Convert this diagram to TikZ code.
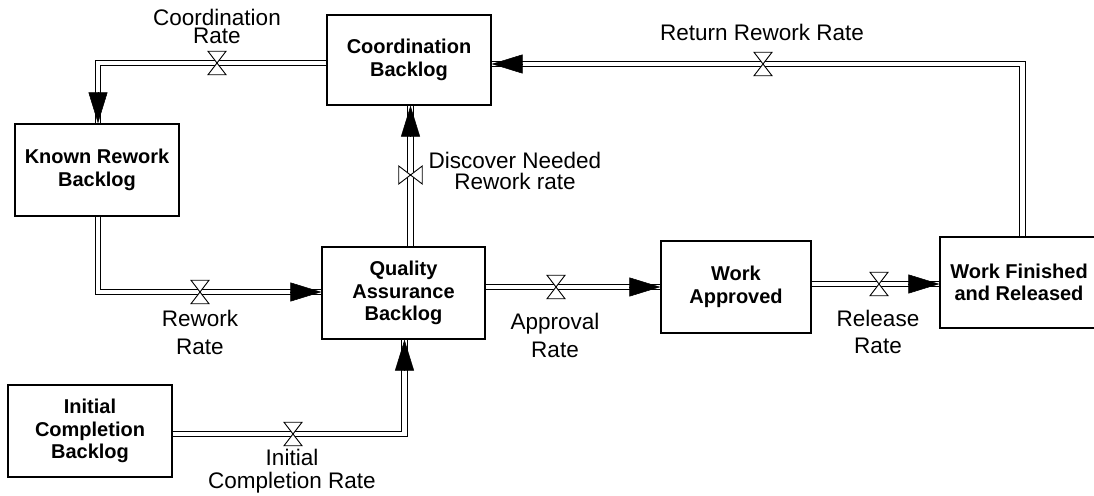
\documentclass[tikz,border=0pt]{standalone}
\usepackage{fontspec}
\setmainfont{Liberation Sans}
\usetikzlibrary{arrows.meta,calc}
\tikzset{
  stock/.style={draw, line width=1.2pt, inner sep=0pt, align=center,
    font=\fontsize{20}{22.5}\selectfont\bfseries},
  lbl/.style={inner sep=0pt, align=center},
  pipe/.style={draw, line width=1.1pt, double=white, double distance=4.2pt, line join=miter},
  flowtip/.style={line width=0.5pt, -{Triangle[length=31pt,width=19pt]}},
  valve/.pic={\draw[fill=white, line width=0.9pt, line join=miter]
    (-9,-11.75) -- (9,-11.75) -- (-9,11.75) -- (9,11.75) -- cycle;}
}
\begin{document}
\begin{tikzpicture}[x=1pt,y=-1pt]
\useasboundingbox (0,0) rectangle (1094,495);
% stocks
\node[stock, minimum width=164pt, minimum height=90pt] (cb)  at (409,60)    {Coordination\\Backlog};
\node[stock, minimum width=164pt, minimum height=92pt] (krb) at (97,170)    {Known Rework\\Backlog};
\node[stock, minimum width=163pt, minimum height=92pt] (qa)  at (403.5,293) {Quality\\Assurance\\Backlog};
\node[stock, minimum width=164pt, minimum height=92pt] (icb) at (90,431)    {Initial\\Completion\\Backlog};
\node[stock, minimum width=150pt, minimum height=92pt] (wa)  at (736,287)   {Work\\Approved};
\node[stock, minimum width=158pt, minimum height=91pt] (wf)  at (1019,282.5){Work Finished\\and Released};
% bend / valve coordinates
\coordinate (b1) at (98,63);
\coordinate (b2) at (98,292);
\coordinate (b3) at (404.5,434);
\coordinate (b4) at (1022.5,64);
\coordinate (vd) at (410.5,175);
\coordinate (va) at (556,287);
\coordinate (vr) at (879,284);
% end points
\coordinate (e1) at (b1 |- krb.north);
\coordinate (e2) at (b2 -| qa.west);
\coordinate (e3) at (b3 |- qa.south);
\coordinate (e4) at (vd |- cb.south);
\coordinate (e5) at (va -| wa.west);
\coordinate (e6) at (vr -| wf.west);
\coordinate (e7) at (b4 -| cb.east);
% pipes
\draw[pipe] (cb.west |- b1) -- (b1) -- (e1);
\draw[pipe] (b2 |- krb.south) -- (b2) -- (e2);
\draw[pipe] (icb.east |- b3) -- (b3) -- (e3);
\draw[pipe] (vd |- qa.north) -- (e4);
\draw[pipe] (qa.east |- va) -- (e5);
\draw[pipe] (wa.east |- vr) -- (e6);
\draw[pipe] (b4 |- wf.north) -- (b4) -- (e7);
% arrowheads
\draw[flowtip] ($(e1)!31pt!(b1)$) -- (e1);
\draw[flowtip] ($(e2)!31pt!(b2)$) -- (e2);
\draw[flowtip] ($(e3)!31pt!(b3)$) -- (e3);
\draw[flowtip] ($(e4)!31pt!(vd)$) -- (e4);
\draw[flowtip] ($(e5)!31pt!(va)$) -- (e5);
\draw[flowtip] ($(e6)!31pt!(vr)$) -- (e6);
\draw[flowtip] ($(e7)!31pt!(b4)$) -- (e7);
% valves
\pic at (217,63) {valve};
\pic at (200,292) {valve};
\pic at (293,434) {valve};
\pic[rotate=90] at (vd) {valve};
\pic at (va) {valve};
\pic at (vr) {valve};
\pic at (763,64) {valve};
% rate labels
\node[lbl, font=\fontsize{22.5}{18.5}\selectfont] (lc) at (217,26.5) {Coordination\\Rate};
\node[lbl, font=\fontsize{22.5}{28}\selectfont] (lrr) at (762,32) {Return Rework Rate};
\node[lbl, font=\fontsize{22.5}{21}\selectfont] (ld) at (515,170.5) {Discover Needed\\Rework rate};
\node[lbl, font=\fontsize{22.5}{28}\selectfont] (lr) at (200,332) {Rework\\Rate};
\node[lbl, font=\fontsize{22.5}{23}\selectfont] (li) at (292,471.5) {Initial\\Completion Rate};
\node[lbl, font=\fontsize{22.5}{28}\selectfont] (la) at (555,335) {Approval\\Rate};
\node[lbl, font=\fontsize{22.5}{27}\selectfont] (lre) at (878,332) {Release\\Rate};
\end{tikzpicture}
\end{document}
